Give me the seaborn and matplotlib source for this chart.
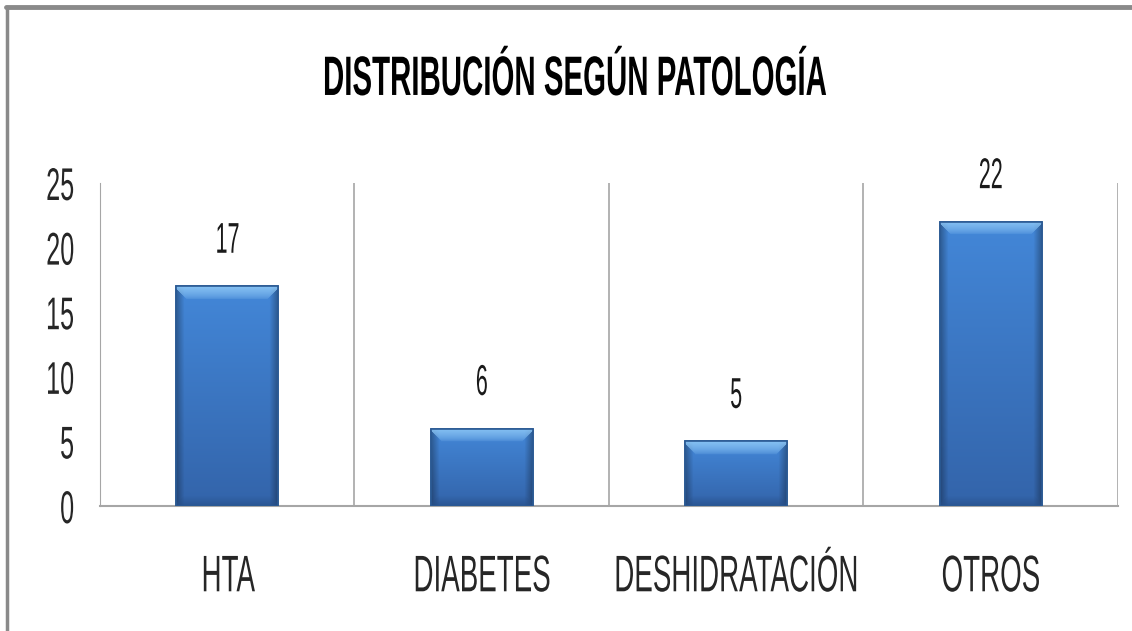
import numpy as np
import pandas as pd
import matplotlib
matplotlib.use("Agg")
import matplotlib.pyplot as plt
import seaborn as sns
from matplotlib.lines import Line2D
from matplotlib.colors import to_rgb
from matplotlib.patheffects import AbstractPathEffect
from matplotlib.transforms import Affine2D

# datos del grafico
patologias = ["HTA", "DIABETES", "DESHIDRATACIÓN", "OTROS"]
casos = [17, 6, 5, 22]
titulo = "DISTRIBUCIÓN SEGÚN PATOLOGÍA"
ticks_y = [0, 5, 10, 15, 20, 25]


class Estrechar(AbstractPathEffect):
    """dibuja el texto comprimido en horizontal (letra estrecha)"""

    def __init__(self, sx=0.55, ancla="center"):
        super().__init__()
        self.sx = sx
        self.ancla = ancla

    def draw_path(self, renderer, gc, tpath, affine, rgbFace=None):
        ext = tpath.get_extents(affine)
        if self.ancla == "right":
            cx = ext.x1
        elif self.ancla == "left":
            cx = ext.x0
        else:
            cx = (ext.x0 + ext.x1) / 2
        t = affine + Affine2D().translate(-cx, 0).scale(self.sx, 1).translate(cx, 0)
        renderer.draw_path(gc, tpath, t, rgbFace)


df = pd.DataFrame({"patologia": patologias, "casos": casos})

sns.set_style("white")
plt.rcParams["font.family"] = ["Liberation Sans", "DejaVu Sans"]

fig = plt.figure(figsize=(11.32, 6.31), dpi=100)
ax = fig.add_axes([0.0883, 0.198, 0.8993, 0.512])

sns.barplot(data=df, x="patologia", y="casos", color="#3D7CC9", width=0.4,
            edgecolor="#2B5A94", linewidth=1.2, ax=ax, zorder=3)

ax.set_xlim(-0.5, len(patologias) - 0.5)
ax.set_ylim(0, 25)
fig.canvas.draw()

# relleno con bisel tipo excel
def textura_barra(wpx, hpx):
    abajo = np.array(to_rgb("#3364AA"))
    arriba = np.array(to_rgb("#4387D8"))
    claro = np.array(to_rgb("#8CC6F5"))
    oscuro = np.array(to_rgb("#27508A"))
    filas = np.linspace(0, 1, hpx)[:, None, None]
    img = np.ones((hpx, wpx, 3)) * (abajo + (arriba - abajo) * filas)
    yy = np.arange(hpx)[:, None]
    xx = np.arange(wpx)[None, :]
    borde_x = np.minimum(xx, wpx - 1 - xx)
    lado = np.clip(1 - borde_x / 8.0, 0, 1)
    img = img * (1 - 0.3 * lado[..., None])
    dist_top = hpx - 1 - yy
    sup = np.clip(1 - dist_top / 13.0, 0.0, 1) ** 0.6 * (dist_top <= borde_x + 2)
    img = img + (claro - img) * (0.9 * sup[..., None])
    inf = np.clip(1 - yy / 10.0, 0, 1) * (yy <= borde_x + 2)
    img = img + (oscuro - img) * (0.7 * inf[..., None])
    return np.clip(img, 0, 1)

for p in list(ax.patches):
    x0, y0 = p.get_x(), p.get_y()
    w, h = p.get_width(), p.get_height()
    bb = p.get_window_extent()
    img = textura_barra(max(int(bb.width), 2), max(int(bb.height), 2))
    im = ax.imshow(img, origin="lower", aspect="auto", interpolation="bilinear",
                   extent=[x0, x0 + w, y0, y0 + h], zorder=3.5)
    im.set_clip_path(p)
    ax.add_patch(plt.Rectangle((x0, y0), w, h, fill=False,
                               edgecolor="#2B5A94", linewidth=1.2, zorder=4))

ax.set_xlim(-0.5, len(patologias) - 0.5)
ax.set_ylim(0, 25)
ax.set_yticks(ticks_y)
ax.set_yticklabels([str(t) for t in ticks_y], fontsize=33, va="top")
ax.tick_params(axis="y", length=0, pad=18)
ax.tick_params(axis="x", length=0, pad=34, labelsize=37)
ax.set_xlabel("")
ax.set_ylabel("")
for lab in ax.get_yticklabels():
    lab.set_path_effects([Estrechar(0.55, "right")])
    lab.set_va("center_baseline")
for lab in ax.get_xticklabels():
    lab.set_path_effects([Estrechar(0.54, "center")])

# lineas verticales entre categorias
for xv in np.arange(-0.5, len(patologias), 1.0):
    ax.axvline(xv, color="#A6A6A6", linewidth=1.2, zorder=1)

for s in ["top", "right"]:
    ax.spines[s].set_visible(False)
ax.spines["left"].set_color("#A6A6A6")
ax.spines["bottom"].set_color("#A6A6A6")
ax.spines["bottom"].set_linewidth(1.5)

# etiquetas de valor
for i, v in enumerate(casos):
    ax.text(i, v + 2.6, str(v), ha="center", va="baseline", fontsize=31,
            color="#1A1A1A", zorder=5, path_effects=[Estrechar(0.5, "center")])

fig.text(0.507, 0.8495, titulo, ha="center", va="baseline", fontsize=40,
         fontweight="bold", color="black", path_effects=[Estrechar(0.53, "center")])

# marco del grafico (solo arriba e izquierda visibles)
fig.add_artist(Line2D([0.0053, 1.0], [0.9889, 0.9889], color="#8A8A8A", linewidth=3.5))
fig.add_artist(Line2D([0.0062, 0.0062], [0.0, 0.9889], color="#8A8A8A", linewidth=2.5))

fig.savefig("out.png", dpi=100)
